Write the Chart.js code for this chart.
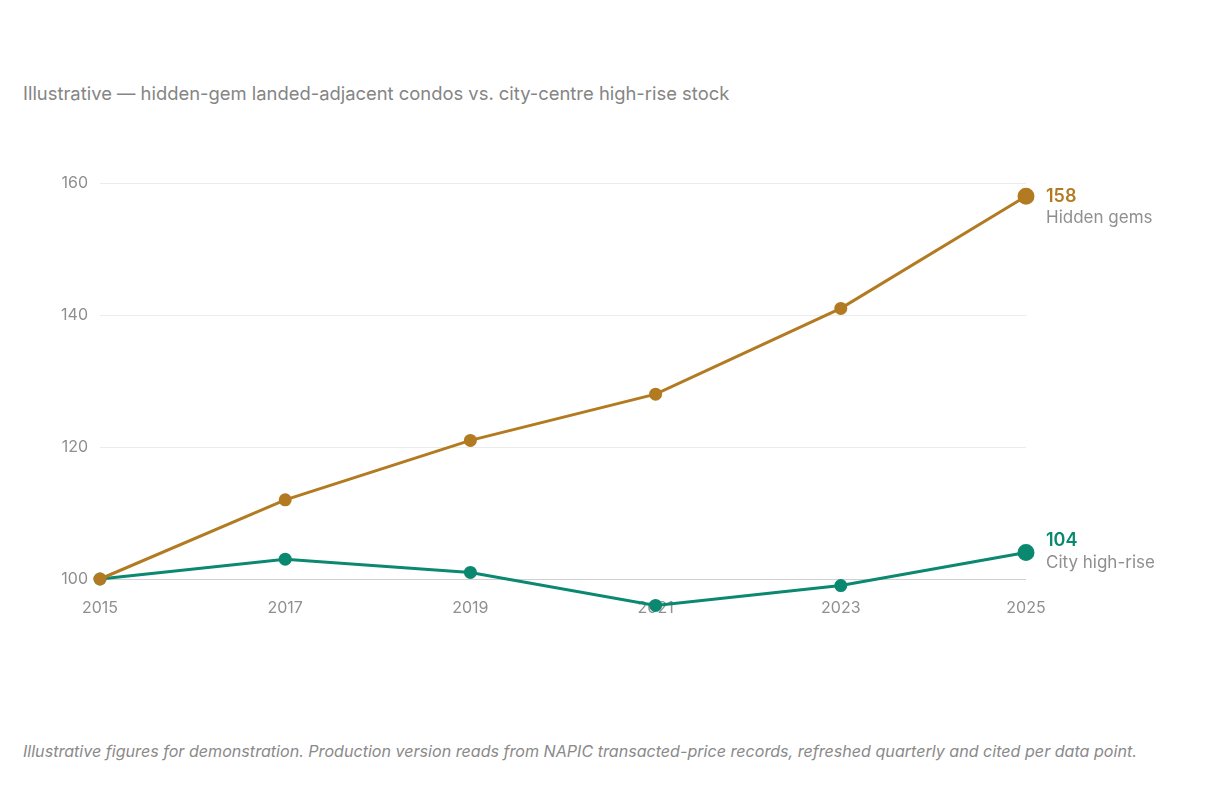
<!DOCTYPE html>
<html>
<head>
<meta charset="utf-8">
<script src="https://cdn.jsdelivr.net/npm/chart.js@4"></script>
<style>
  html, body { margin: 0; padding: 0; background: #fff; }
  body { width: 1232px; height: 788px; position: relative; overflow: hidden; font-family: Inter, sans-serif; }
  .title { position: absolute; left: 23px; top: 82px; font-size: 18.4px; color: #858585; }
  .chart-box { position: absolute; left: 0; top: 160px; width: 1232px; height: 500px; }
  .note { position: absolute; left: 23px; top: 741px; font-size: 16.1px; color: #8a8a8a; font-style: italic; }
</style>
</head>
<body>
<div class="title">Illustrative — hidden-gem landed-adjacent condos vs. city-centre high-rise stock</div>
<div class="chart-box"><canvas id="priceChart"></canvas></div>
<div class="note">Illustrative figures for demonstration. Production version reads from NAPIC transacted-price records, refreshed quarterly and cited per data point.</div>

<script>
// Index values (2015 = 100)
const years = ['2015', '2017', '2019', '2021', '2023', '2025'];
const hiddenGems = [100, 112, 121, 128, 141, 158];
const cityHighRise = [100, 103, 101, 96, 99, 104];
const yTicks = [100, 120, 140, 160];

const GOLD = '#b27b22';
const TEAL = '#0a8870';

// draws the value + name next to the last point of each line
// (the lower line gets its label nudged up so it clears the baseline)
const endLabels = {
  id: 'endLabels',
  afterDatasetsDraw(chart) {
    const ctx = chart.ctx;
    chart.data.datasets.forEach((ds, i) => {
      const meta = chart.getDatasetMeta(i);
      const last = meta.data[meta.data.length - 1];
      const v = ds.data[ds.data.length - 1];
      const shift = i === 1 ? -12 : 0;
      ctx.save();
      ctx.textAlign = 'left';
      ctx.textBaseline = 'middle';
      ctx.fillStyle = ds.borderColor;
      ctx.font = '600 18px Inter';
      ctx.fillText(String(v), last.x + 20, last.y + shift);
      ctx.fillStyle = '#8f8f8f';
      ctx.font = '17px Inter';
      ctx.fillText(ds.label, last.x + 20, last.y + shift + 22);
      ctx.restore();
    });
  }
};

new Chart(document.getElementById('priceChart'), {
  type: 'line',
  data: {
    labels: years,
    datasets: [{
      label: 'Hidden gems',
      data: hiddenGems,
      borderColor: GOLD,
      backgroundColor: GOLD,
      borderWidth: 3,
      pointRadius: ctx => ctx.dataIndex === hiddenGems.length - 1 ? 7 : 5,
      pointHoverRadius: 7,
      tension: 0
    }, {
      label: 'City high-rise',
      data: cityHighRise,
      borderColor: TEAL,
      backgroundColor: TEAL,
      borderWidth: 3,
      pointRadius: ctx => ctx.dataIndex === cityHighRise.length - 1 ? 7 : 5,
      pointHoverRadius: 7,
      tension: 0
    }]
  },
  options: {
    responsive: true,
    maintainAspectRatio: false,
    animation: false,
    clip: false,
    layout: { padding: { top: 23, right: 206, left: 0, bottom: 0 } },
    plugins: {
      legend: { display: false },
      tooltip: { enabled: false }
    },
    scales: {
      x: {
        offset: false,
        grid: { display: false, drawTicks: false },
        border: { display: false },
        // mirror keeps the labels unclipped so they can sit up against the lowest point
        ticks: { color: '#8f8f8f', font: { family: 'Inter', size: 16 }, mirror: true, padding: -9, maxRotation: 0 },
        afterFit: s => { s.height = 51.3; }
      },
      y: {
        min: 95.5,
        max: 160,
        afterBuildTicks: s => { s.ticks = yTicks.map(v => ({ value: v })); },
        grid: {
          drawTicks: false,
          color: c => c.tick && c.tick.value === 100 ? '#d0d0d0' : '#ececec',
          lineWidth: 1
        },
        border: { display: false },
        ticks: { color: '#8f8f8f', font: { family: 'Inter', size: 16 }, padding: 12 },
        afterFit: s => { s.width = 100; }
      }
    }
  },
  plugins: [endLabels]
});
</script>
</body>
</html>
